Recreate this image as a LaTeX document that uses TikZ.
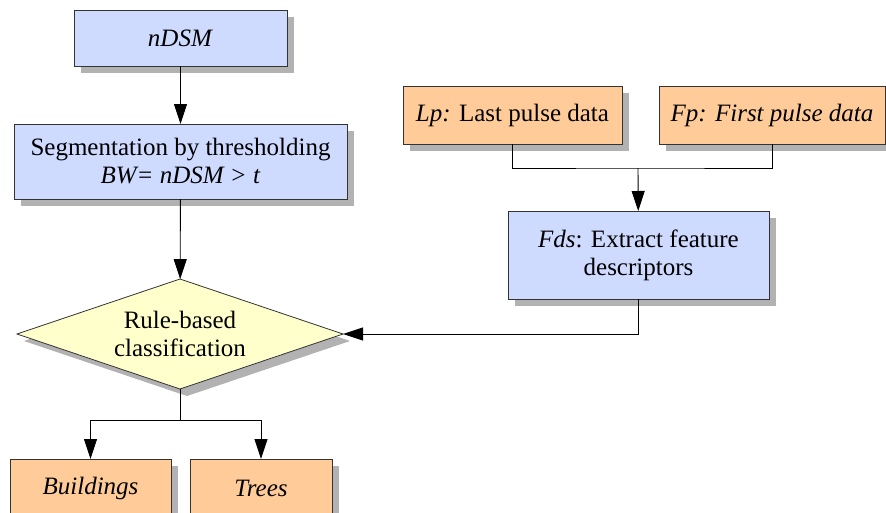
\documentclass[tikz,border=0pt]{standalone}
\usepackage{fontspec}
\setmainfont{Liberation Serif}
\usepackage{xcolor}
\usetikzlibrary{arrows.meta,positioning,shapes.geometric,shadows}

\definecolor{procblue}{HTML}{CFDAFF}
\definecolor{dataorange}{HTML}{FFCC99}
\definecolor{ruleyellow}{HTML}{FFFFCC}

\begin{document}
\begin{tikzpicture}[
  x=1pt,y=-1pt,
  box/.style={draw=black!80,line width=0.8pt,align=center,inner sep=2pt,outer sep=0pt,
    font=\fontsize{25}{28}\selectfont,
    drop shadow={shadow xshift=7pt,shadow yshift=-7pt,fill=black!30,opacity=1}},
  proc/.style={box,fill=procblue},
  inout/.style={box,fill=dataorange},
  rule/.style={box,diamond,aspect=3,inner sep=0pt,fill=ruleyellow,minimum width=326pt,minimum height=110pt},
  line/.style={draw=black,line width=0.9pt},
  >={Triangle[length=20pt,width=13pt]}
]
\useasboundingbox (0,0) rectangle (886,512);
% left column
\node[proc,minimum width=213pt,minimum height=56pt] (ndsm) at (180.5,38) {\textit{nDSM}};
\node[proc,minimum width=333pt,minimum height=75pt] (seg) at (180.5,161.5) {Segmentation by thresholding\\\textit{BW=~nDSM~>~t}};
\node[rule] (cls) at (180,334) {Rule-based\\classification};
\node[inout,minimum width=161pt,minimum height=58pt] (bld) at (90.5,488) {\textit{Buildings}};
\node[inout,minimum width=142pt,minimum height=58pt] (trees) at (261,488) {\textit{Trees}};
% right column
\node[inout,minimum width=219pt,minimum height=58pt] (lp) at (512.5,115) {\textit{Lp:} Last pulse data};
\node[inout,minimum width=226pt,minimum height=58pt] (fp) at (772,115) {\textit{Fp: First pulse data}};
\node[proc,minimum width=261pt,minimum height=88pt] (fds) at (638.5,255) {\textit{Fds}: Extract feature\\descriptors};
\coordinate (join) at (638,168);
\coordinate (fork) at (180,420);
% connectors
\draw[line,->] (ndsm) -- (seg);
\draw[line,->] (seg) -- (cls);
\draw[line] (lp.south) |- (join) -| (fp.south);
\draw[line,->] (join) -- (fds);
\draw[line,->] (fds.south) |- (cls.east);
\draw[line] (cls.south) -- (fork);
\draw[line,->] (fork) -| (bld.north);
\draw[line,->] (fork) -| (trees.north);
\end{tikzpicture}
\end{document}
